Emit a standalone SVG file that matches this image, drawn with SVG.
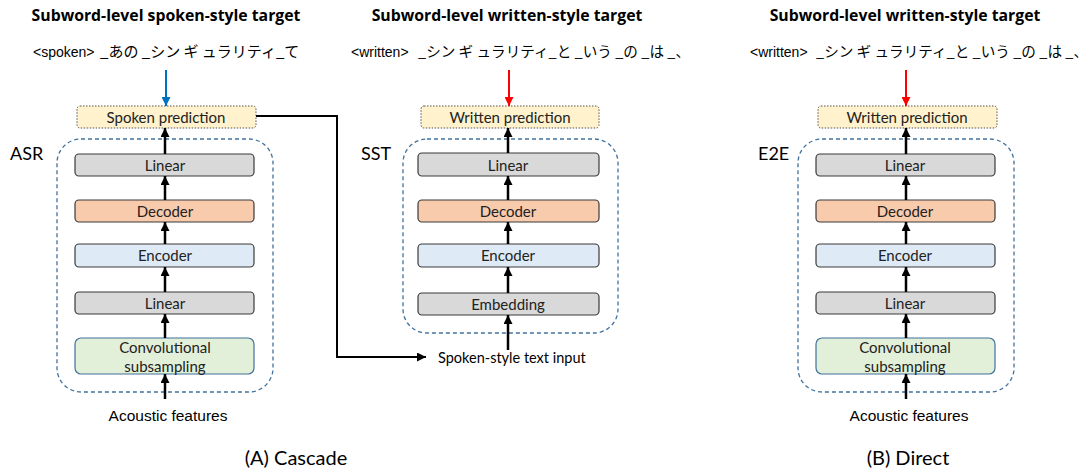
<svg xmlns="http://www.w3.org/2000/svg" width="1091" height="473" viewBox="0 0 1091 473">
  <style>
    .title { font-family: "Open Sans", Lato, sans-serif; font-weight: bold; font-size: 15.8px; fill: #000; text-anchor: middle; }
    .tag { font-family: "Liberation Sans", Arial, sans-serif; font-size: 14px; fill: #000; }
    .jp { font-family: "Noto Sans CJK JP", sans-serif; font-size: 15px; fill: #000; }
    .jp-w { font-family: "Noto Sans CJK JP", sans-serif; font-size: 14.6px; fill: #000; }
    .lbl { font-family: Lato, "Open Sans", sans-serif; font-size: 15px; fill: #222; text-anchor: middle; }
    .side { font-family: Lato, "Open Sans", sans-serif; font-size: 18px; fill: #000; }
    .cap { font-family: Lato, "Open Sans", sans-serif; font-size: 20px; fill: #000; text-anchor: middle; }
    .feat { font-family: "Liberation Sans", Arial, sans-serif; font-size: 15.5px; fill: #000; text-anchor: middle; }
    .inp { font-family: Lato, "Open Sans", sans-serif; font-size: 14.5px; fill: #000; }
    .group { fill: none; stroke: #41719C; stroke-width: 1.3; stroke-dasharray: 4 3; }
    .pred { fill: #FFF2CC; stroke: #555; stroke-width: 1; stroke-dasharray: 1.5 1.5; }
    .linear { fill: #D9D9D9; stroke: #3A3A3A; stroke-width: 1.2; }
    .dec { fill: #F8CBAD; stroke: #3A3A3A; stroke-width: 1.2; }
    .enc { fill: #DEEBF7; stroke: #3A3A3A; stroke-width: 1.2; }
    .conv { fill: #E2F0D9; stroke: #41719C; stroke-width: 1.2; }
    .arr { fill: none; stroke: #000; stroke-width: 2.5; marker-end: url(#ah); }
    .arr-blue { fill: none; stroke: #0070C0; stroke-width: 2; marker-end: url(#ahb); }
    .arr-red { fill: none; stroke: #FF0000; stroke-width: 2; marker-end: url(#ahr); }
    .link { fill: none; stroke: #000; stroke-width: 2; marker-end: url(#ah); }
  </style>
  <defs>
    <marker id="ah" viewBox="0 0 10 10" refX="10" refY="5" markerUnits="userSpaceOnUse" markerWidth="9" markerHeight="9" orient="auto">
      <path d="M0,0 L10,5 L0,10 z" fill="#000"/>
    </marker>
    <marker id="ahb" viewBox="0 0 10 10" refX="10" refY="5" markerUnits="userSpaceOnUse" markerWidth="9" markerHeight="9" orient="auto">
      <path d="M0,0 L10,5 L0,10 z" fill="#0070C0"/>
    </marker>
    <marker id="ahr" viewBox="0 0 10 10" refX="10" refY="5" markerUnits="userSpaceOnUse" markerWidth="9" markerHeight="9" orient="auto">
      <path d="M0,0 L10,5 L0,10 z" fill="#FF0000"/>
    </marker>
  </defs>

  <!-- Headings and target sequences -->
  <g id="targets">
    <text class="title" x="166" y="21">Subword-level spoken-style target</text>
    <text xml:space="preserve" x="33" y="57"><tspan class="tag">&lt;spoken&gt;</tspan><tspan class="jp" x="100">_あの _シン ギ ュラリティ_て</tspan></text>

    <text class="title" x="507" y="21">Subword-level written-style target</text>
    <text xml:space="preserve" x="351" y="57"><tspan class="tag">&lt;written&gt;</tspan><tspan class="jp-w" x="418">_シン ギ ュラリティ_と _いう _の _は _、</tspan></text>

    <text class="title" x="905" y="21">Subword-level written-style target</text>
    <text xml:space="preserve" x="750" y="57"><tspan class="tag">&lt;written&gt;</tspan><tspan class="jp-w" x="816">_シン ギ ュラリティ_と _いう _の _は _、</tspan></text>
  </g>

  <!-- Model containers -->
  <g id="asr-block">
    <rect class="group" x="57" y="139" width="216" height="253" rx="24"/>
    <text class="side" x="10" y="160">ASR</text>
  </g>
  <g id="sst-block">
    <rect class="group" x="403" y="139" width="215" height="194" rx="24"/>
    <text class="side" x="361" y="160">SST</text>
  </g>
  <g id="e2e-block">
    <rect class="group" x="798" y="139" width="216" height="253" rx="24"/>
    <text class="side" x="758" y="160">E2E</text>
  </g>

  <!-- Cascade: ASR stack -->
  <g id="asr-pred"><rect class="pred" x="77" y="106" width="179" height="22" rx="3"/><text class="lbl" x="166" y="122.5">Spoken prediction</text></g>
  <g id="asr-linear2"><rect class="linear" x="75" y="154" width="179" height="22" rx="4"/><text class="lbl" x="165" y="170.5">Linear</text></g>
  <g id="asr-decoder"><rect class="dec" x="75" y="200" width="179" height="22" rx="4"/><text class="lbl" x="165" y="216.5">Decoder</text></g>
  <g id="asr-encoder"><rect class="enc" x="75" y="244" width="179" height="23" rx="4"/><text class="lbl" x="165" y="261">Encoder</text></g>
  <g id="asr-linear1"><rect class="linear" x="75" y="292" width="179" height="22" rx="4"/><text class="lbl" x="165" y="308.5">Linear</text></g>
  <g id="asr-conv"><rect class="conv" x="75" y="338" width="179" height="36" rx="6"/><text class="lbl" x="165" y="353">Convolutional</text><text class="lbl" x="165" y="372">subsampling</text></g>
  <g id="asr-input"><text class="feat" x="168" y="421">Acoustic features</text></g>

  <!-- Cascade: SST stack -->
  <g id="sst-pred"><rect class="pred" x="421" y="106" width="178" height="22" rx="3"/><text class="lbl" x="510" y="122.5">Written prediction</text></g>
  <g id="sst-linear"><rect class="linear" x="418" y="153" width="181" height="23" rx="4"/><text class="lbl" x="508" y="170.5">Linear</text></g>
  <g id="sst-decoder"><rect class="dec" x="418" y="200" width="181" height="22" rx="4"/><text class="lbl" x="508" y="216.5">Decoder</text></g>
  <g id="sst-encoder"><rect class="enc" x="418" y="244" width="181" height="23" rx="4"/><text class="lbl" x="508" y="261">Encoder</text></g>
  <g id="sst-embedding"><rect class="linear" x="418" y="293" width="181" height="22" rx="4"/><text class="lbl" x="508" y="309.5">Embedding</text></g>
  <g id="sst-input"><text class="inp" x="438" y="363">Spoken-style text input</text></g>

  <!-- Direct: E2E stack -->
  <g id="e2e-pred"><rect class="pred" x="818" y="106" width="179" height="22" rx="3"/><text class="lbl" x="907" y="122.5">Written prediction</text></g>
  <g id="e2e-linear2"><rect class="linear" x="816" y="154" width="179" height="22" rx="4"/><text class="lbl" x="905" y="170.5">Linear</text></g>
  <g id="e2e-decoder"><rect class="dec" x="816" y="200" width="179" height="22" rx="4"/><text class="lbl" x="905" y="216.5">Decoder</text></g>
  <g id="e2e-encoder"><rect class="enc" x="816" y="244" width="179" height="23" rx="4"/><text class="lbl" x="905" y="261">Encoder</text></g>
  <g id="e2e-linear1"><rect class="linear" x="816" y="292" width="179" height="22" rx="4"/><text class="lbl" x="905" y="308.5">Linear</text></g>
  <g id="e2e-conv"><rect class="conv" x="816" y="338" width="179" height="36" rx="6"/><text class="lbl" x="905" y="353">Convolutional</text><text class="lbl" x="905" y="372">subsampling</text></g>
  <g id="e2e-input"><text class="feat" x="909" y="421">Acoustic features</text></g>

  <!-- Captions -->
  <g id="captions">
    <text class="cap" x="296" y="465">(A) Cascade</text>
    <text class="cap" x="908" y="465">(B) Direct</text>
  </g>

  <!-- Connectors -->
  <g id="connectors">
    <line class="arr-blue" x1="166" y1="70" x2="166" y2="106"/>
    <line class="arr-red" x1="509" y1="70" x2="509" y2="106"/>
    <line class="arr-red" x1="906" y1="70" x2="906" y2="106"/>

    <line class="arr" x1="165" y1="154" x2="165" y2="128"/>
    <line class="arr" x1="165" y1="200" x2="165" y2="176"/>
    <line class="arr" x1="165" y1="244" x2="165" y2="222"/>
    <line class="arr" x1="165" y1="292" x2="165" y2="267"/>
    <line class="arr" x1="165" y1="338" x2="165" y2="314"/>
    <line class="arr" x1="165" y1="399" x2="165" y2="374"/>

    <line class="arr" x1="508" y1="153" x2="508" y2="128"/>
    <line class="arr" x1="508" y1="200" x2="508" y2="176"/>
    <line class="arr" x1="508" y1="244" x2="508" y2="222"/>
    <line class="arr" x1="508" y1="293" x2="508" y2="267"/>
    <line class="arr" x1="508" y1="350" x2="508" y2="315"/>

    <line class="arr" x1="906" y1="154" x2="906" y2="128"/>
    <line class="arr" x1="906" y1="200" x2="906" y2="176"/>
    <line class="arr" x1="906" y1="244" x2="906" y2="222"/>
    <line class="arr" x1="906" y1="292" x2="906" y2="267"/>
    <line class="arr" x1="906" y1="338" x2="906" y2="314"/>
    <line class="arr" x1="906" y1="399" x2="906" y2="374"/>

    <polyline class="link" points="256,116 337,116 337,357 426,357"/>
  </g>
</svg>
